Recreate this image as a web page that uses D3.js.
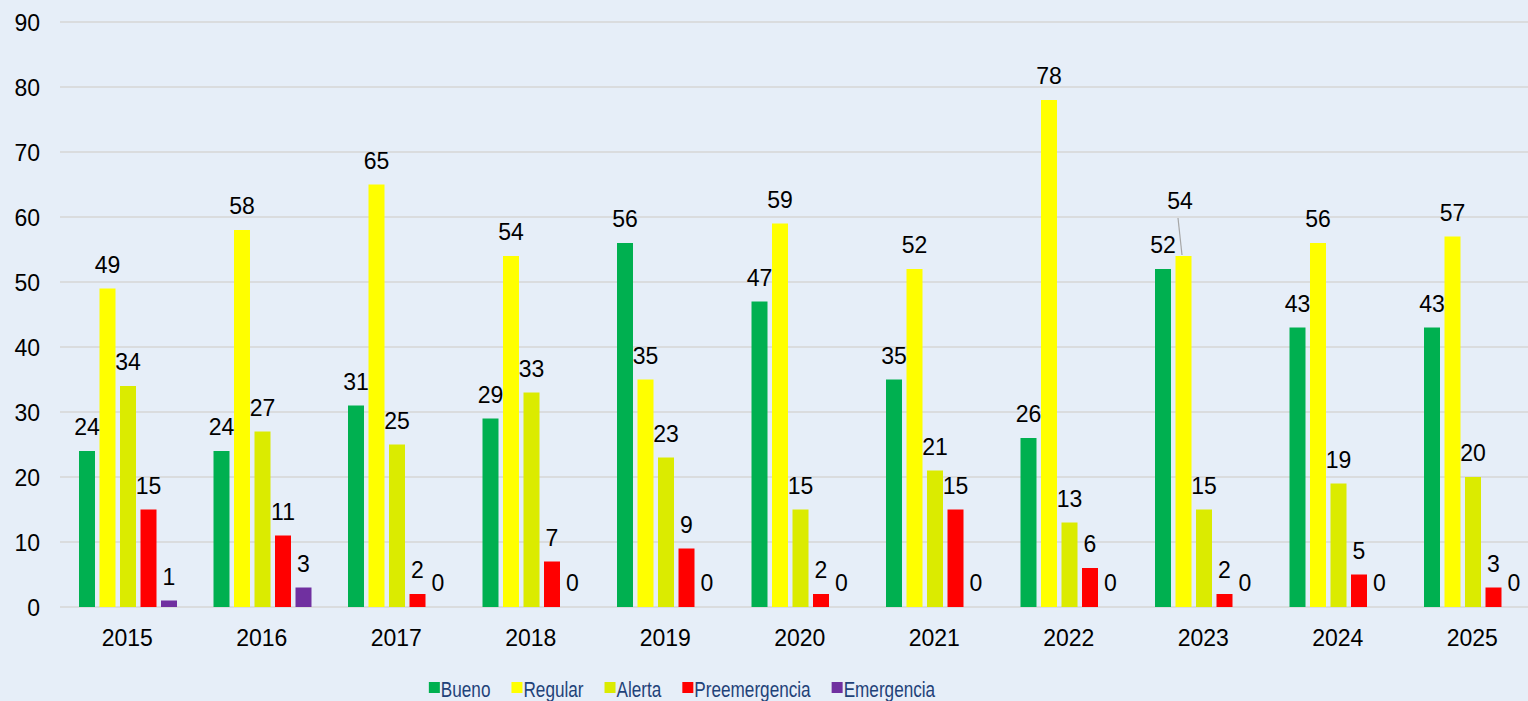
<!DOCTYPE html>
<html><head><meta charset="utf-8">
<script src="https://cdn.jsdelivr.net/npm/d3@7"></script>
<style>
html,body{margin:0;padding:0;background:#e6eef8;}
svg{display:block;}
</style></head>
<body>
<script>
const years = ["2015","2016","2017","2018","2019","2020","2021","2022","2023","2024","2025"];
const seriesNames = ["Bueno","Regular","Alerta","Preemergencia","Emergencia"];
const seriesColors = ["#00b050","#ffff00","#dbeb00","#ff0000","#7030a0"];
const bueno =         [24,24,31,29,56,47,35,26,52,43,43];
const regular =       [49,58,65,54,35,59,52,78,54,56,57];
const alerta =        [34,27,25,33,23,15,21,13,15,19,20];
const preemergencia = [15,11,2,7,9,2,15,6,2,5,3];
const emergencia =    [1,3,0,0,0,0,0,0,0,0,0];
const yTicks = [0,10,20,30,40,50,60,70,80,90];

const seriesValues = [bueno, regular, alerta, preemergencia, emergencia];
const W = 1528, H = 701;
const svg = d3.select("body").append("svg").attr("width", W).attr("height", H);

svg.append("rect").attr("width", W).attr("height", H).attr("fill", "#e6eef8");

const x0 = d3.scaleBand().domain(years).range([60, 1539.5]).padding(0);
const x1 = d3.scaleBand().domain(seriesNames).range([19, 117]).paddingInner(0.22).paddingOuter(0);
const y = d3.scaleLinear().domain([0, 90]).range([607, 22]);

const font = "'Liberation Sans', Arial, sans-serif";
const fs = 23;

svg.append("g").selectAll("line").data(yTicks).join("line")
  .attr("x1", 60).attr("x2", W)
  .attr("y1", d => y(d)).attr("y2", d => y(d))
  .attr("stroke", "#d6d6d6").attr("stroke-width", 1.5);

const yAxis = d3.axisLeft(y).tickValues(yTicks).tickSize(0).tickPadding(0);
const yg = svg.append("g").attr("transform", "translate(40,0)").call(yAxis);
yg.select(".domain").remove();
yg.selectAll("text").attr("font-family", font).attr("font-size", fs).attr("fill", "#000").attr("dy", "0.36em");

const xAxis = d3.axisBottom(x0).tickSize(0).tickPadding(0);
const xg = svg.append("g").attr("transform", "translate(0,646)").call(xAxis);
xg.select(".domain").remove();
xg.selectAll("text").attr("font-family", font).attr("font-size", fs).attr("fill", "#000").attr("dy", 0);

const rows = [];
years.forEach((yr, i) => {
  seriesNames.forEach((s, j) => {
    rows.push({year: yr, series: s, value: seriesValues[j][i], color: seriesColors[j]});
  });
});

svg.append("g").selectAll("rect").data(rows.filter(d => d.value > 0)).join("rect")
  .attr("x", d => x0(d.year) + x1(d.series))
  .attr("width", x1.bandwidth())
  .attr("y", d => y(d.value))
  .attr("height", d => y(0) - y(d.value))
  .attr("fill", d => d.color);

const isMoved = d => d.year === "2023" && d.series === "Regular";
svg.append("g").selectAll("text").data(rows).join("text")
  .attr("x", d => x0(d.year) + x1(d.series) + x1.bandwidth() / 2 - (isMoved(d) ? 3.5 : 0))
  .attr("y", d => y(d.value) - 16 - (isMoved(d) ? 31 : 0))
  .attr("text-anchor", "middle")
  .attr("font-family", font).attr("font-size", fs).attr("fill", "#000")
  .text(d => d.value);

rows.filter(isMoved).forEach(d => {
  const cx = x0(d.year) + x1(d.series) + x1.bandwidth() / 2;
  svg.append("line")
    .attr("x1", cx - 5.5).attr("y1", y(d.value) - 38)
    .attr("x2", cx - 1.5).attr("y2", y(d.value) - 1)
    .attr("stroke", "#a6a6a6").attr("stroke-width", 1.2);
});

// legend
const legend = svg.append("g");
let lx = 0;
const sx = 0.78;
const gap = 21;
seriesNames.forEach((s, j) => {
  const g = legend.append("g");
  g.append("rect").attr("x", 0).attr("y", -15).attr("width", 11).attr("height", 11).attr("fill", seriesColors[j]);
  const t = g.append("text").attr("transform", `translate(12,0) scale(${sx},1)`)
    .attr("font-family", font)
    .attr("font-size", 22).attr("fill", "#1f4279").text(s);
  const w = 12 + t.node().getComputedTextLength() * sx;
  g.attr("transform", `translate(${lx},0)`);
  lx += w + gap;
});
const total = lx - gap;
legend.attr("transform", `translate(${682 - total / 2},697)`);
</script>
</body></html>
